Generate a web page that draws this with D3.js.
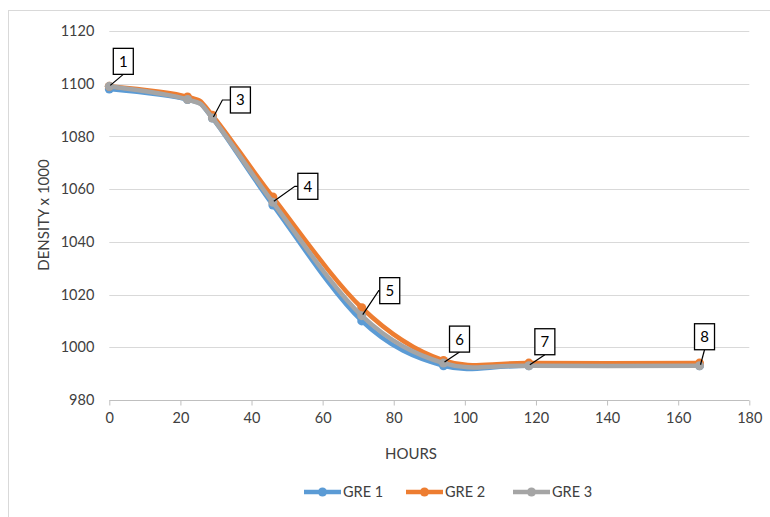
<!DOCTYPE html>
<html><head><meta charset="utf-8">
<script src="https://cdn.jsdelivr.net/npm/d3@7"></script>
<style>body{margin:0;background:#fff;} svg{display:block;font-family:Lato,"Open Sans",sans-serif;}</style>
</head><body>
<svg id="c" width="770" height="517"></svg>
<script>
const hours = [0, 22, 29, 46, 71, 94, 118, 166];
const gre1 = [1098, 1094, 1087, 1054, 1010, 993, 993, 993];
const gre2 = [1099, 1095, 1088, 1057, 1015, 995, 994, 994];
const gre3 = [1099, 1094, 1087, 1055, 1012, 994, 993, 993];
const seriesNames = ["GRE 1", "GRE 2", "GRE 3"];
const xTicks = [0, 20, 40, 60, 80, 100, 120, 140, 160, 180];
const yTicks = [980, 1000, 1020, 1040, 1060, 1080, 1100, 1120];
const pointLabels = ["1", "", "3", "4", "5", "6", "7", "8"];
// label box offsets relative to point (annotation layout)
const labelOffsets = [[14,-12,"diag"],null,[18,-18,"elbow"],[25,-16,"elbow"],[18,-25,"diag2"],[16,-11,"diag"],[16,-11,"diag"],[5,-16,"diag"]];

const colors = ["#5B9BD5", "#ED7D31", "#A5A5A5"];
const svg = d3.select("#c");
svg.append("rect").attr("x",8.5).attr("y",10.5).attr("width",900).attr("height",700)
  .attr("fill","none").attr("stroke","#d9d9d9");

const x = d3.scaleLinear().domain([0,180]).range([109.3,749.3]);
const y = d3.scaleLinear().domain([980,1120]).range([400,31]);

// gridlines
svg.append("g").selectAll("line").data(yTicks.slice(1)).join("line")
  .attr("x1",x(0)).attr("x2",x(180)).attr("y1",d=>Math.round(y(d))+0.5).attr("y2",d=>Math.round(y(d))+0.5)
  .attr("stroke","#d9d9d9").attr("stroke-width",1);

// x axis
const xa = svg.append("g").attr("transform",`translate(0,${Math.round(y(980))+0.5})`)
  .call(d3.axisBottom(x).tickValues(xTicks).tickSize(5).tickSizeOuter(0).tickPadding(7));
xa.select(".domain").attr("stroke","#bfbfbf").attr("d",`M${x(0)},0H${x(180)}`);
xa.selectAll(".tick line").attr("stroke","#bfbfbf");
xa.selectAll(".tick text").attr("fill","#404040").attr("font-size",14.5).attr("font-family","Lato,sans-serif");

// y labels
const ya = svg.append("g").attr("transform",`translate(${x(0)},0)`)
  .call(d3.axisLeft(y).tickValues(yTicks).tickSize(0).tickPadding(15).tickFormat(d3.format("d")));
ya.select(".domain").remove();
ya.selectAll(".tick text").attr("fill","#404040").attr("font-size",14.5).attr("font-family","Lato,sans-serif");

// titles
svg.append("text").attr("x",411).attr("y",459).attr("text-anchor","middle")
  .attr("font-size",15).attr("fill","#404040").text("HOURS");
svg.append("text").attr("transform","translate(49,215) rotate(-90)").attr("text-anchor","middle")
  .attr("font-size",15).attr("fill","#404040").text("DENSITY x 1000");

// lines
const data = [gre1, gre2, gre3];
const line = d3.line().x((d,i)=>x(hours[i])).y(d=>y(d)).curve(d3.curveCardinal.tension(0));
data.forEach((vals,k)=>{
  const g = svg.append("g");
  g.append("path").datum(vals).attr("d",line).attr("fill","none")
    .attr("stroke",colors[k]).attr("stroke-width",4.5).attr("stroke-linejoin","round").attr("stroke-linecap","round");
  g.selectAll("circle").data(vals).join("circle")
    .attr("cx",(d,i)=>x(hours[i])).attr("cy",d=>y(d)).attr("r",4.5).attr("fill",colors[k]);
});

// labels
const ann = svg.append("g");
pointLabels.forEach((lab,i)=>{
  if(!lab) return;
  const off = labelOffsets[i];
  const px = x(hours[i]), py = y(gre3[i]);
  const bx = px + off[0], by = py + off[1];
  const w = 20, h = 26;
  let rx, ry;
  if(off[2]==="elbow"){
    rx = bx; ry = by - h/2;
    const el = i===2 ? 8 : 3;
    ann.append("path").attr("d",`M${px+1},${py-1}L${bx-el},${by}H${bx}`)
      .attr("fill","none").attr("stroke","#000").attr("stroke-width",1.2);
  } else if(off[2]==="diag2"){
    rx = bx; ry = by - h/2;
    ann.append("path").attr("d",`M${px+1},${py-1}L${bx-1},${by}H${bx}`)
      .attr("fill","none").attr("stroke","#000").attr("stroke-width",1.2);
  } else {
    rx = bx - w/2; ry = by - h;
    ann.append("path").attr("d",`M${px+1},${py-1}L${bx},${by}`)
      .attr("fill","none").attr("stroke","#000").attr("stroke-width",1.2);
  }
  ann.append("rect").attr("x",rx).attr("y",ry).attr("width",w).attr("height",h)
    .attr("fill","#fff").attr("stroke","#000").attr("stroke-width",1.3);
  ann.append("text").attr("x",rx+w/2).attr("y",ry+h/2+5.5).attr("text-anchor","middle")
    .attr("font-size",15).attr("fill","#000").text(lab);
});

// legend
const legX = [304, 406, 513];
const lg = svg.append("g");
seriesNames.forEach((n,k)=>{
  const gx = legX[k], gy = 492;
  lg.append("line").attr("x1",gx).attr("x2",gx+37).attr("y1",gy).attr("y2",gy)
    .attr("stroke",colors[k]).attr("stroke-width",4.5);
  lg.append("circle").attr("cx",gx+18.5).attr("cy",gy).attr("r",4.5).attr("fill",colors[k]);
  lg.append("text").attr("x",gx+39).attr("y",gy+5).attr("font-size",14.5).attr("fill","#404040").text(n);
});
</script>
</body></html>
